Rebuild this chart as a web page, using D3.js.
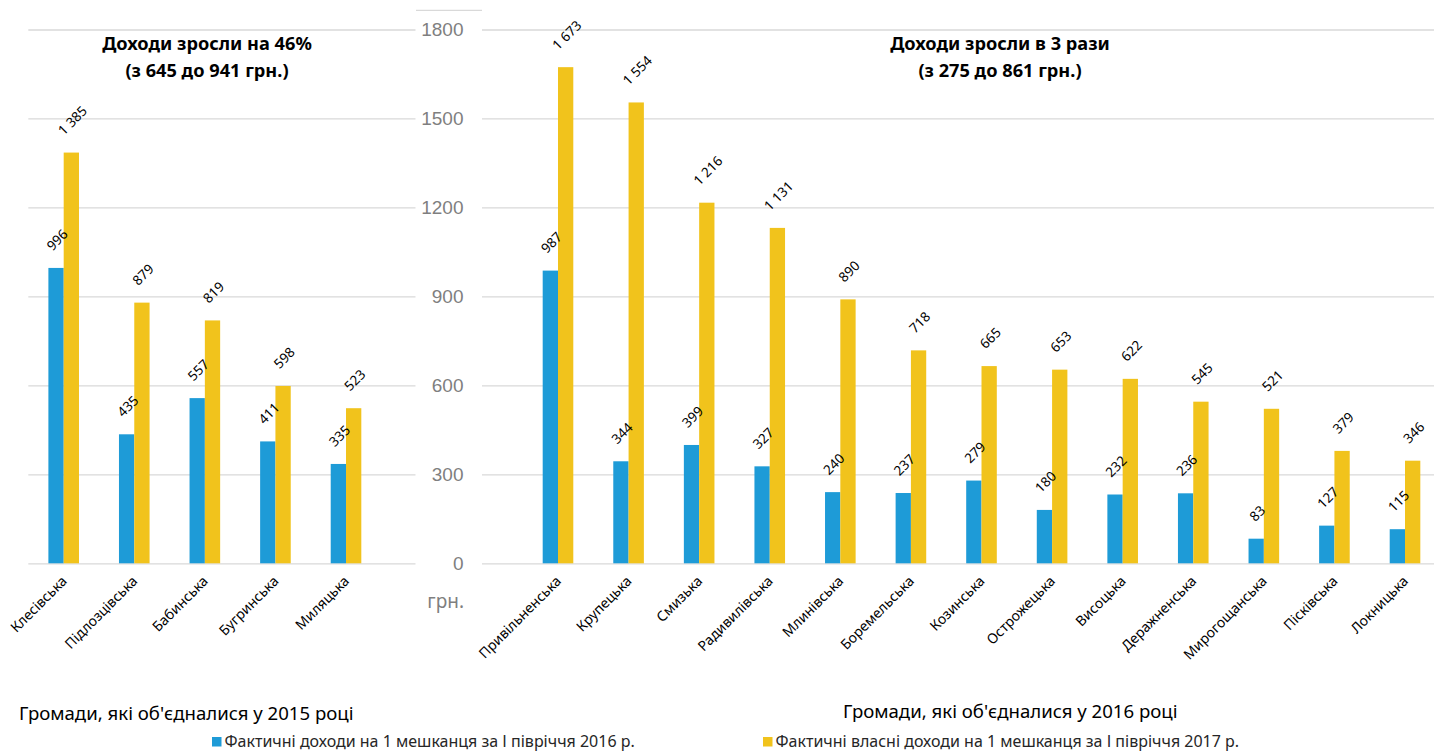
<!DOCTYPE html>
<meta charset="utf-8">
<style>
    body { margin: 0; background: #fff; }
    svg { font-family: "Noto Sans", sans-serif; }
    .grid line { stroke: #d9d9d9; stroke-width: 1.3; }
    .grid path { display: none; }
    .yaxis text { fill: #7f7f7f; font-size: 19px; }
    .yaxis path, .yaxis line { display: none; }
</style>
<svg width="1434" height="751"></svg>
<script src="https://d3js.org/d3.v7.min.js"></script>
<script>

    // громади 2015 року
    var cats2015 = ["Клесівська", "Підлозцівська", "Бабинська", "Бугринська", "Миляцька"];
    var fact2016a = [996, 435, 557, 411, 335];
    var own2017a = [1385, 879, 819, 598, 523];

    // громади 2016 року
    var cats2016 = ["Привільненська", "Крупецька", "Смизька", "Радивилівська", "Млинівська",
        "Боремельська", "Козинська", "Острожецька", "Висоцька", "Деражненська",
        "Мирогощанська", "Пісківська", "Локницька"];
    var fact2016b = [987, 344, 399, 327, 240, 237, 279, 180, 232, 236, 83, 127, 115];
    var own2017b = [1673, 1554, 1216, 1131, 890, 718, 665, 653, 622, 545, 521, 379, 346];

    var yTicks = [0, 300, 600, 900, 1200, 1500, 1800];
    var seriesNames = ["Фактичні доходи на 1 мешканця за І півріччя 2016 р.",
        "Фактичні власні доходи на 1 мешканця за І півріччя 2017 р."];
    var colors = ["#1e9bd7", "#f1c31c"];

    var svg = d3.select("svg");
    var fmt = d3.formatLocale({decimal: ",", thousands: "\u00a0", grouping: [3], currency: ["", ""]}).format(",d");

    var y = d3.scaleLinear().domain([0, 1800]).range([563.3, 29.5]);

    // сітка
    function grid(x0, x1) {
        svg.append("g")
            .attr("class", "grid")
            .attr("transform", "translate(" + x1 + ",0)")
            .call(d3.axisLeft(y).tickValues(yTicks).tickSize(x1 - x0).tickFormat(""));
    }
    grid(28.3, 415.5);
    grid(482, 1434);

    svg.append("line")
        .attr("x1", 416).attr("x2", 482)
        .attr("y1", 10.3).attr("y2", 10.3)
        .attr("stroke", "#d9d9d9").attr("stroke-width", 1.3);

    svg.append("g")
        .attr("class", "yaxis")
        .attr("transform", "translate(463.5,0)")
        .call(d3.axisLeft(y).tickValues(yTicks).tickSize(0).tickPadding(0).tickFormat(d3.format("d")));

    svg.append("text")
        .attr("x", 464).attr("y", 608)
        .attr("text-anchor", "end")
        .attr("fill", "#7f7f7f")
        .style("font-size", "19px")
        .text("грн.");

    function panel(cats, a, b, r0, r1, title, cx) {
        var x0 = d3.scaleBand().domain(cats).range([r0, r1]);
        var x1 = d3.scaleBand().domain([0, 1])
            .range([x0.bandwidth() / 2 - 15.3, x0.bandwidth() / 2 + 15.3]);
        var rows = cats.map(function(c, i) { return {cat: c, vals: [a[i], b[i]]}; });

        var g = svg.append("g");
        var groups = g.selectAll("g.cat").data(rows).enter().append("g")
            .attr("class", "cat")
            .attr("transform", function(d) { return "translate(" + x0(d.cat) + ",0)"; });

        groups.selectAll("rect").data(function(d) { return d.vals; }).enter().append("rect")
            .attr("x", function(d, i) { return x1(i); })
            .attr("width", x1.bandwidth())
            .attr("y", function(d) { return y(d); })
            .attr("height", function(d) { return y(0) - y(d); })
            .attr("fill", function(d, i) { return colors[i]; });

        groups.selectAll("text.val").data(function(d) { return d.vals; }).enter().append("text")
            .attr("class", "val")
            .style("font-size", "13.5px")
            .attr("text-anchor", "middle")
            .attr("dominant-baseline", "central")
            .text(function(d) { return fmt(d); })
            .each(function(d, i) {
                var L = this.getComputedTextLength();
                var px = x1(i) + x1.bandwidth() / 2 + 1, py = y(d) - (L * 0.354 + 20);
                d3.select(this).attr("transform", "translate(" + px + "," + py + ") rotate(-45)");
            });

        g.selectAll("text.cat").data(cats).enter().append("text")
            .attr("class", "cat")
            .style("font-size", "14px")
            .attr("text-anchor", "end")
            .attr("transform", function(d) {
                return "translate(" + (x0(d) + x0.bandwidth() / 2 + 4) + ",582) rotate(-45)";
            })
            .text(function(d) { return d; });

        var t = svg.append("text")
            .attr("text-anchor", "middle")
            .style("font-size", "18.2px")
            .style("font-weight", "bold");
        t.append("tspan").attr("x", cx).attr("y", 49.5).text(title[0]);
        t.append("tspan").attr("x", cx).attr("y", 77).text(title[1]);
    }

    panel(cats2015, fact2016a, own2017a, 28.4, 381.3,
        ["Доходи зросли на 46%", "(з 645 до 941 грн.)"], 207);
    panel(cats2016, fact2016b, own2017b, 522.7, 1440.3,
        ["Доходи зросли в 3 рази", "(з 275 до 861 грн.)"], 1000);

    svg.append("text").attr("x", 19).attr("y", 719.5).style("font-size", "18.6px")
        .text("Громади, які об'єдналися у 2015 році");
    svg.append("text").attr("x", 843).attr("y", 717.5).style("font-size", "18.6px")
        .text("Громади, які об'єдналися у 2016 році");

    // легенда
    var legX = [212, 763];
    seriesNames.forEach(function(name, i) {
        svg.append("rect").attr("x", legX[i]).attr("y", 737).attr("width", 9.5).attr("height", 9.5)
            .attr("fill", colors[i]);
        svg.append("text").attr("x", legX[i] + 12.5).attr("y", 747)
            .style("font-size", "16px").attr("fill", "#262626")
            .text(name);
    });

</script>
